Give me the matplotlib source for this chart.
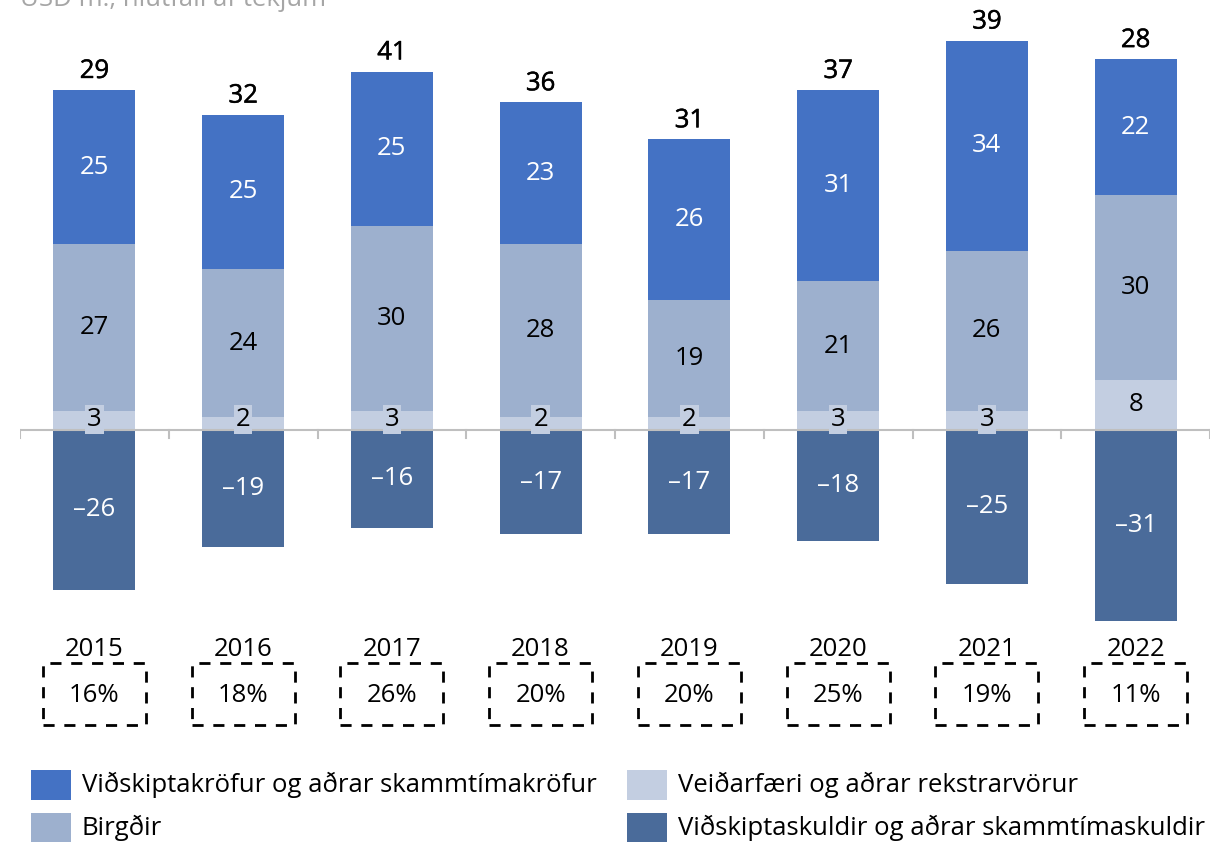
import matplotlib
matplotlib.use("Agg")
import matplotlib.pyplot as plt
import matplotlib.patheffects as pe
from matplotlib.patches import Rectangle
import numpy as np

plt.rcParams['font.family'] = ['Open Sans', 'DejaVu Sans']

years = ["2015", "2016", "2017", "2018", "2019", "2020", "2021", "2022"]
veidarfaeri = [3, 2, 3, 2, 2, 3, 3, 8]
birgdir = [27, 24, 30, 28, 19, 21, 26, 30]
krofur = [25, 25, 25, 23, 26, 31, 34, 22]
skuldir = [-26, -19, -16, -17, -17, -18, -25, -31]
totals = [29, 32, 41, 36, 31, 37, 39, 28]
hlutfall = ["16%", "18%", "26%", "20%", "20%", "25%", "19%", "11%"]

labels = ["Viðskiptakröfur og aðrar skammtímakröfur",
          "Veiðarfæri og aðrar rekstrarvörur",
          "Birgðir",
          "Viðskiptaskuldir og aðrar skammtímaskuldir"]

c_krofur = "#4472C4"
c_birgdir = "#9DB0CE"
c_veid = "#C3CEE1"
c_skuld = "#4A6B9A"

W, H = 1221, 842
fig = plt.figure(figsize=(W / 100, H / 100), dpi=100)
ax = fig.add_axes([20 / W, (H - 640) / H, 1190 / W, 640 / H])

x = np.arange(len(years))
bw = 0.55
ax.bar(x, veidarfaeri, bw, color=c_veid, zorder=2)
ax.bar(x, birgdir, bw, bottom=veidarfaeri, color=c_birgdir, zorder=2)
bottom3 = np.array(veidarfaeri) + np.array(birgdir)
ax.bar(x, krofur, bw, bottom=bottom3, color=c_krofur, zorder=2)
ax.bar(x, skuldir, bw, color=c_skuld, zorder=2)

ax.set_xlim(-0.5, len(years) - 0.5)
ax.set_ylim(-34.1, 69.6)
ax.axis("off")

# category axis with boundary ticks
ax.plot([-0.5, len(years) - 0.5], [0, 0], color="#BFBFBF", lw=1.5, zorder=3,
        solid_capstyle="butt")
for b in np.arange(-0.5, len(years), 1.0):
    ax.plot([b, b], [0, -1.3], color="#BFBFBF", lw=1.5, zorder=3)

fs = 18.5
heavy = [pe.withStroke(linewidth=0.35, foreground="black")]
for i in range(len(years)):
    v, bi, k, s = veidarfaeri[i], birgdir[i], krofur[i], skuldir[i]
    ax.text(x[i], v / 2 if v > 3 else 1.6, f"{v}", ha="center", va="center",
            fontsize=fs, color="black", zorder=5,
            bbox=dict(boxstyle="square,pad=0.08", fc=c_veid, ec="none"))
    ax.text(x[i], v + bi / 2, f"{bi}", ha="center", va="center",
            fontsize=fs, color="black", zorder=5)
    ax.text(x[i], v + bi + k / 2, f"{k}", ha="center", va="center",
            fontsize=fs, color="white", zorder=5)
    ax.text(x[i], s / 2, f"\u2013{abs(s)}", ha="center", va="center",
            fontsize=fs, color="white", zorder=5)
    ax.text(x[i], v + bi + k + 1.0, f"{totals[i]}", ha="center", va="bottom",
            fontsize=fs, color="black", zorder=5, path_effects=heavy)

# year labels and ratio boxes below the axis
fig_y = lambda py: 1 - py / H
for i in range(len(years)):
    xf = (20 + (i + 0.5) * 1190 / len(years)) / W
    fig.text(xf, fig_y(650), years[i], ha="center", va="center", fontsize=fs)
    fig.text(xf, fig_y(695), hlutfall[i], ha="center", va="center", fontsize=fs)
    bwf = 103 / W
    fig.patches.append(Rectangle((xf - bwf / 2, fig_y(725)), bwf, 62 / H,
                                 transform=fig.transFigure, fill=False,
                                 ec="black", lw=2, ls=(0, (4, 3.5))))

# unit caption along the top edge
fig.text(20 / W, 1.0, "USD m., hlutfall af tekjum", ha="left", va="center",
         fontsize=fs, color="#A6A6A6")

# legend
leg_items = [(31, 785, c_krofur, labels[0]), (627, 785, c_veid, labels[1]),
             (31, 828, c_birgdir, labels[2]), (627, 828, c_skuld, labels[3])]
for px, py, col, lab in leg_items:
    fig.patches.append(Rectangle((px / W, fig_y(py + 15)), 40 / W, 30 / H,
                                 transform=fig.transFigure, fc=col, ec="none"))
    fig.text((px + 51) / W, fig_y(py), lab, ha="left", va="center",
             fontsize=fs)

fig.savefig("out.png", dpi=100)
